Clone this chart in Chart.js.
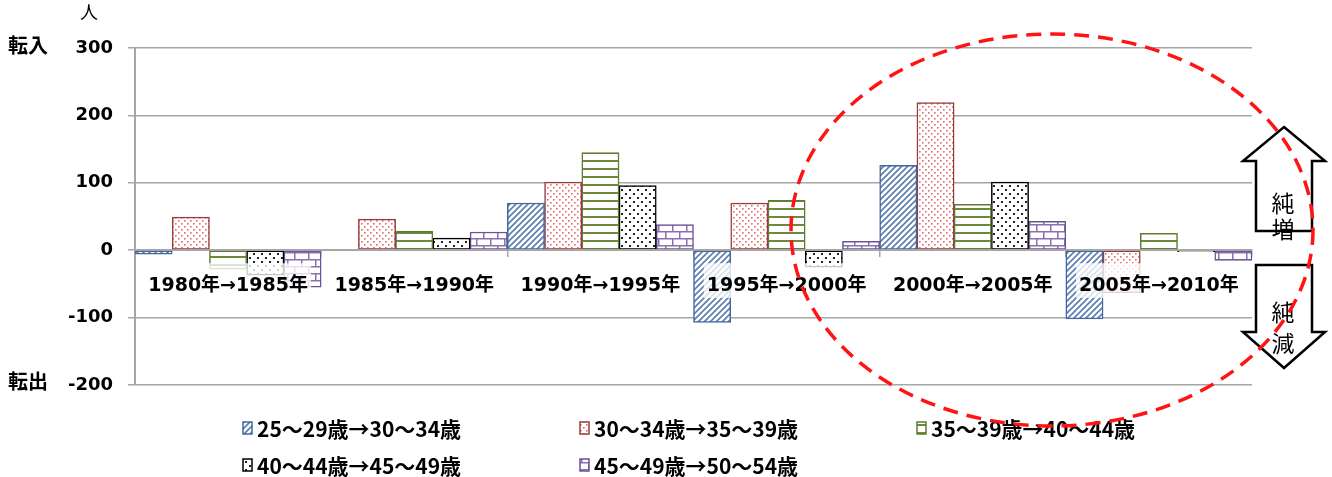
<!DOCTYPE html>
<html lang="ja">
<head>
<meta charset="utf-8">
<script src="https://cdn.jsdelivr.net/npm/chart.js@4.4.1/dist/chart.umd.min.js"></script>
<style>
  html, body { margin: 0; padding: 0; background: #fff; }
  #wrap { position: relative; width: 1332px; height: 477px; }
</style>
</head>
<body>
<div id="wrap"><canvas id="migChart"></canvas></div>
<script>
// 5歳階級コーホート別の純移動数（人）、5年ごと
const periods = ['1980年→1985年', '1985年→1990年', '1990年→1995年', '1995年→2000年', '2000年→2005年', '2005年→2010年'];
const seriesNames = ['25～29歳→30～34歳', '30～34歳→35～39歳', '35～39歳→40～44歳', '40～44歳→45～49歳', '45～49歳→50～54歳'];
const cohort25 = [-6, 1, 70, -107, 126, -102];
const cohort30 = [49, 46, 101, 70, 219, -63];
const cohort35 = [-28, 28, 145, 74, 68, 25];
const cohort40 = [-37, 18, 96, -25, 101, -2];
const cohort45 = [-55, 27, 38, 13, 43, -15];
const yTickValues = [-200, -100, 0, 100, 200, 300];

const LABEL_FONT = '"DejaVu Sans", "Noto Sans CJK JP", sans-serif';
const JP_FONT = '"Noto Sans CJK JP", sans-serif';
const GRID = '#a6a6a6';

// fill patterns like the Excel original
function makePattern(kind, color) {
  const c = document.createElement('canvas');
  const sizes = { hatch: [6, 6], dots: [6, 6], hlines: [8, 8], bigdots: [8, 8], brick: [14, 14] };
  const [w, h] = sizes[kind];
  c.width = w; c.height = h;
  const g = c.getContext('2d');
  g.fillStyle = '#fff';
  g.fillRect(0, 0, w, h);
  g.strokeStyle = color;
  g.fillStyle = color;
  if (kind === 'hatch') {
    g.lineWidth = 1.6;
    g.beginPath();
    g.moveTo(-1, 7); g.lineTo(7, -1);
    g.moveTo(-4, 4); g.lineTo(4, -4);
    g.moveTo(2, 10); g.lineTo(10, 2);
    g.stroke();
  } else if (kind === 'dots') {
    g.fillRect(1, 1, 1.6, 1.6);
    g.fillRect(4, 4, 1.6, 1.6);
  } else if (kind === 'hlines') {
    g.fillRect(0, 0, w, 2);
  } else if (kind === 'bigdots') {
    g.fillRect(1, 1, 2, 2);
    g.fillRect(5, 5, 2, 2);
  } else if (kind === 'brick') {
    g.lineWidth = 1.5;
    g.beginPath();
    g.moveTo(0, 0.75); g.lineTo(w, 0.75);
    g.moveTo(0, 7.75); g.lineTo(w, 7.75);
    g.moveTo(0.75, 0); g.lineTo(0.75, 7);
    g.moveTo(7.75, 7); g.lineTo(7.75, 14);
    g.stroke();
  }
  return g.createPattern(c, 'repeat');
}

const styles = [
  { border: '#41689b', fill: makePattern('hatch', '#5a7db0') },
  { border: '#983b3b', fill: makePattern('dots', '#e26a6a') },
  { border: '#5f7a34', fill: makePattern('hlines', '#6b8a3c') },
  { border: '#000000', fill: makePattern('bigdots', '#222222') },
  { border: '#6a5496', fill: makePattern('brick', '#8b70b0') },
];
const seriesValues = [cohort25, cohort30, cohort35, cohort40, cohort45];

const decorPlugin = {
  id: 'decor',
  afterDraw(chart) {
    const c = chart.ctx;
    c.save();
    // axis titles
    c.fillStyle = '#000';
    c.textBaseline = 'middle';
    c.textAlign = 'left';
    c.font = 'bold 20px ' + JP_FONT;
    c.fillText('転入', 8, 45);
    c.fillText('転出', 8, 381);
    c.font = '18px ' + JP_FONT;
    c.fillText('人', 80, 12);

    // 純増 / 純減 block arrows
    c.lineWidth = 2.5;
    c.strokeStyle = '#000';
    c.fillStyle = '#fff';
    c.beginPath();
    c.moveTo(1284, 127); c.lineTo(1325, 161); c.lineTo(1312, 161); c.lineTo(1312, 231);
    c.lineTo(1256, 231); c.lineTo(1256, 161); c.lineTo(1243, 161); c.closePath();
    c.fill(); c.stroke();
    c.beginPath();
    c.moveTo(1256, 265); c.lineTo(1312, 265); c.lineTo(1312, 332); c.lineTo(1325, 332);
    c.lineTo(1284, 368); c.lineTo(1243, 332); c.lineTo(1256, 332); c.closePath();
    c.fill(); c.stroke();
    c.fillStyle = '#000';
    c.textAlign = 'center';
    c.font = '23px ' + JP_FONT;
    c.fillText('純', 1283, 203);
    c.fillText('増', 1283, 229);
    c.fillText('純', 1283, 312);
    c.fillText('減', 1283, 343);

    // legend (3 columns)
    const colX = [243, 580, 917];
    const rowY = [428, 465];
    c.font = 'bold 21px ' + JP_FONT;
    c.textAlign = 'left';
    seriesNames.forEach((name, i) => {
      const x = colX[i % 3], y = rowY[Math.floor(i / 3)];
      c.fillStyle = styles[i].fill;
      c.fillRect(x, y - 6, 9, 12);
      c.strokeStyle = styles[i].border;
      c.lineWidth = 1.5;
      c.strokeRect(x, y - 6, 9, 12);
      c.fillStyle = '#000';
      c.fillText(name, x + 14, y + 1);
    });

    // red dashed ellipse highlighting recent periods
    c.strokeStyle = '#ff1414';
    c.lineWidth = 3.5;
    c.setLineDash([15, 9]);
    c.beginPath();
    c.ellipse(1052, 230, 261, 196, 0, 0, Math.PI * 2);
    c.stroke();
    c.restore();
  }
};

new Chart(document.getElementById('migChart'), {
  type: 'bar',
  data: {
    labels: periods,
    datasets: seriesNames.map((name, i) => ({
      label: name,
      data: seriesValues[i],
      backgroundColor: styles[i].fill,
      borderColor: styles[i].border,
      borderWidth: 1.5,
      borderSkipped: false,
      categoryPercentage: 1.0,
      barPercentage: 1.0,
    }))
  },
  options: {
    responsive: true,
    maintainAspectRatio: false,
    animation: false,
    layout: { padding: { top: 48, bottom: 92, left: 0, right: 80 } },
    plugins: { legend: { display: false }, tooltip: { enabled: false } },
    scales: {
      x: {
        position: { y: 0 },
        offset: true,
        afterFit(scale) { scale.height = 0; },
        grid: { display: true, drawOnChartArea: false, drawTicks: true, tickLength: 6, color: GRID, lineWidth: 1.5, offset: true },
        border: { display: true, color: GRID, width: 2, z: 1 },
        ticks: {
          z: 1,
          color: '#000',
          font: { family: LABEL_FONT, size: 19, weight: 'bold' },
          padding: 18,
          maxRotation: 0,
          autoSkip: false,
          showLabelBackdrop: true,
          backdropColor: 'rgba(255,255,255,0.78)',
          backdropPadding: { top: 11, bottom: 1, left: 3, right: 3 },
        }
      },
      y: {
        min: Math.min(...yTickValues),
        max: Math.max(...yTickValues),
        afterFit(scale) { scale.width = 135; },
        afterBuildTicks(scale) { scale.ticks = yTickValues.map(v => ({ value: v })); },
        grid: { color: GRID, lineWidth: 1.5, tickLength: 7 },
        border: { display: true, color: GRID, width: 2 },
        ticks: {
          color: '#000',
          font: { family: LABEL_FONT, size: 18, weight: 'bold' },
          padding: 15,
        }
      }
    }
  },
  plugins: [decorPlugin]
});
</script>
</body>
</html>
